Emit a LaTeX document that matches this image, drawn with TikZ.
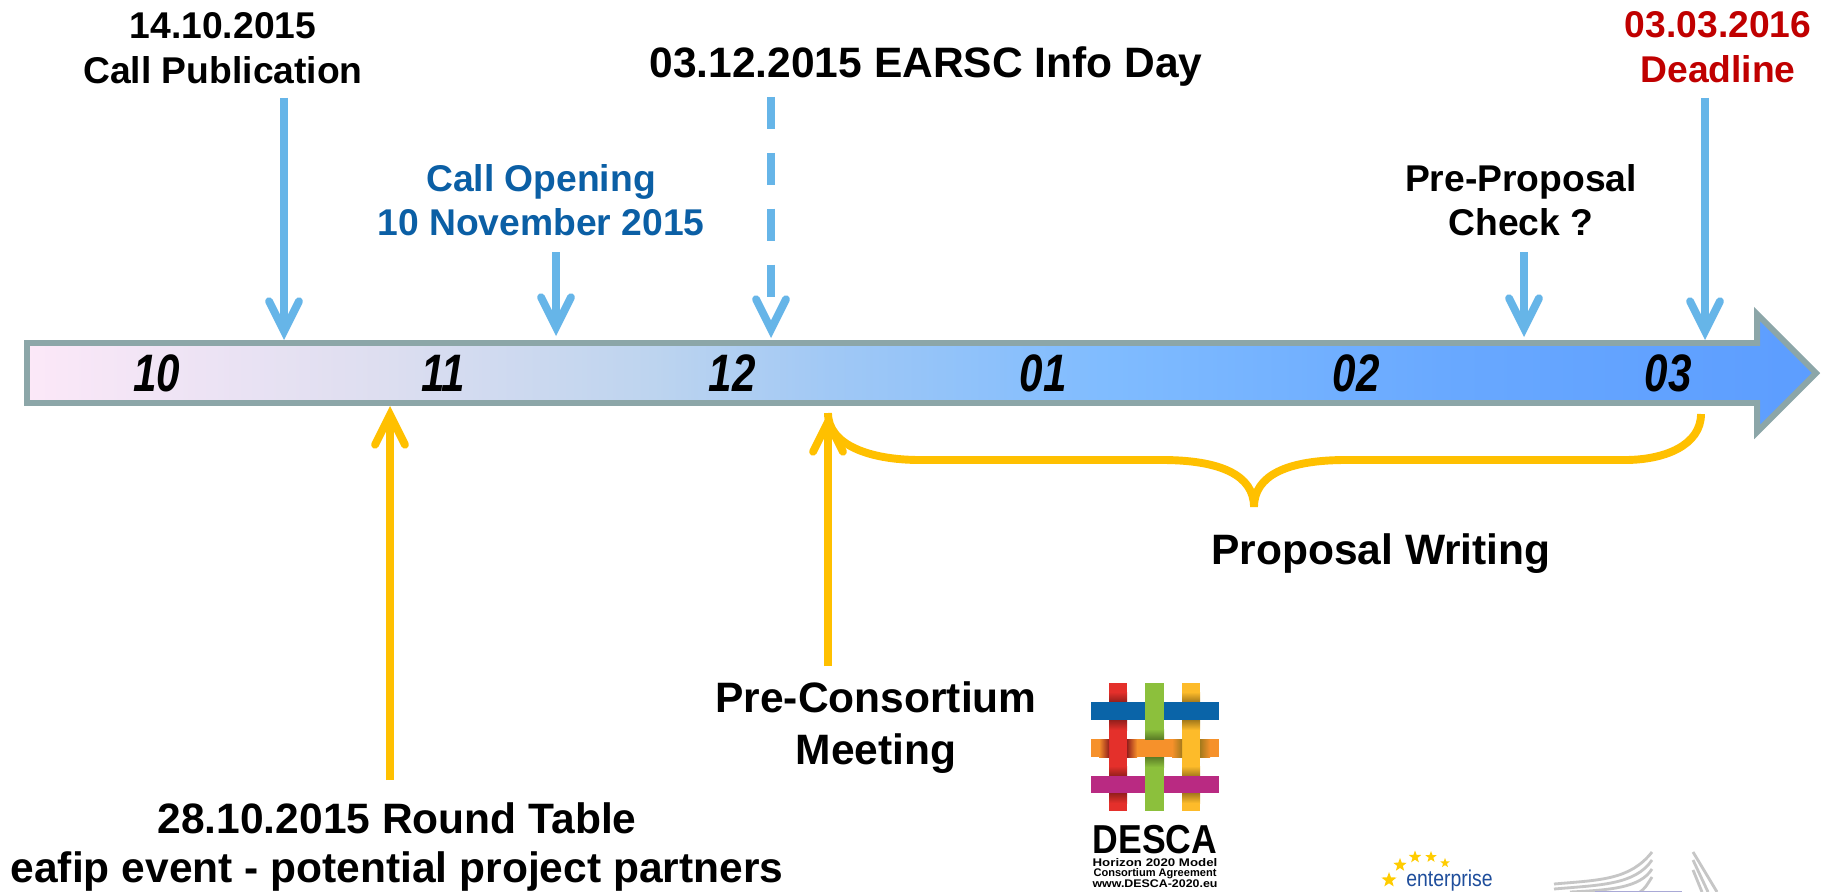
\documentclass[tikz,border=0pt]{standalone}
\usepackage{fontspec}
\setmainfont{Liberation Sans}
\usetikzlibrary{arrows.meta}
\usetikzlibrary{shapes.geometric}
\definecolor{skyblue}{HTML}{66B5E8}
\definecolor{amber}{HTML}{FFC000}
\definecolor{steelrim}{HTML}{8CA6A8}
\definecolor{openblue}{HTML}{0B5FA5}
\definecolor{deadred}{HTML}{C00000}
\definecolor{euroblue}{HTML}{1F4E9C}
\definecolor{eurogold}{HTML}{FFCC00}
\definecolor{descared}{HTML}{E4302B}
\definecolor{descagreen}{HTML}{8CC03C}
\definecolor{descayellow}{HTML}{FDBB2A}
\definecolor{descablue}{HTML}{0A64A8}
\definecolor{descaorange}{HTML}{F6912B}
\definecolor{descamagenta}{HTML}{B92A82}
\definecolor{bara}{HTML}{FCE8F8}
\definecolor{barb}{HTML}{DDDEF0}
\definecolor{barc}{HTML}{BDD4EF}
\definecolor{bard}{HTML}{A0C8F5}
\definecolor{bare}{HTML}{80BCFF}
\definecolor{barf}{HTML}{68A8FF}
\definecolor{barg}{HTML}{5C9DFF}
\pgfdeclarehorizontalshading{barshade}{100bp}{color(0bp)=(bara); color(25bp)=(bara); color(35bp)=(barb); color(42.5bp)=(barc); color(47.5bp)=(bard); color(55bp)=(bare); color(65bp)=(barf); color(75bp)=(barg); color(100bp)=(barg)}
\tikzset{
	x=0.02cm,y=-0.02cm,
	labelstyle/.style={font=\bfseries\fontsize{21.2}{25.3}\selectfont,align=center,inner sep=0},
	bigstyle/.style={font=\bfseries\fontsize{24.2}{29.7}\selectfont,align=center,inner sep=0},
	monthstyle/.style={font=\bfseries\itshape\fontsize{30}{30}\selectfont,inner sep=0,xscale=.8,transform shape},
	bluearrow/.style={draw=skyblue,line width=4.5pt,-{Straight Barb[length=17pt,width=17pt,line cap=round,line join=miter]}},
	amberarrow/.style={draw=amber,line width=4.5pt,-{Straight Barb[length=17pt,width=17pt,line cap=round,line join=miter]}},
	starstyle/.style={star,star points=5,star point ratio=2.4,fill=eurogold,inner sep=0},
	wingstyle/.style={draw=gray!45,line width=1.6pt}
}
\begin{document}
\begin{tikzpicture}
	\useasboundingbox (0,0) rectangle (1825,892);
	\fill[white] (0,0) rectangle (1825,892);
	% bar
	\shade[shading=barshade] (27,343)--(1757,343)--(1757,314)--(1816,373)--(1757,432)--(1757,403)--(27,403)--cycle;
	\draw[steelrim,line width=3.4pt,miter limit=10] (27,343)--(1757,343)--(1757,314)--(1816,373)--(1757,432)--(1757,403)--(27,403)--cycle;
	\node[monthstyle] (m10) at (157,373) {10};
	\node[monthstyle] (m11) at (443,373) {11};
	\node[monthstyle] (m12) at (732,373) {12};
	\node[monthstyle] (m01) at (1043,373) {01};
	\node[monthstyle] (m02) at (1356,373) {02};
	\node[monthstyle] (m03) at (1668,373) {03};
	% labels above
	\node[labelstyle] (publ) at (223,48) {14.10.2015\\Call Publication};
	\node[bigstyle] (info) at (926,67) {03.12.2015 EARSC Info Day};
	\node[labelstyle,text=openblue] (open) at (541,200) {Call Opening\\10 November 2015};
	\node[labelstyle] (check) at (1521,200) {Pre-Proposal\\Check ?};
	\node[labelstyle,text=deadred] (dead) at (1718,47) {03.03.2016\\Deadline};
	% labels below
	\node[bigstyle] (write) at (1381,554) {Proposal Writing};
	\node[bigstyle] (meet) at (876,728) {Pre-Consortium\\Meeting};
	\node[bigstyle] (table) at (397,847) {28.10.2015 Round Table\\[-1.7pt]eafip event - potential project partners};
	% ends on the bar
	\coordinate (publtip) at (284,340);
	\coordinate (publtop) at (284,98);
	\coordinate (opentip) at (556,336);
	\coordinate (opentop) at (556,252);
	\coordinate (infotip) at (771,338);
	\coordinate (infotop) at (771,97);
	\coordinate (checktip) at (1524,337);
	\coordinate (checktop) at (1524,252);
	\coordinate (deadtip) at (1705,340);
	\coordinate (deadtop) at (1705,98);
	\coordinate (tabletip) at (390,406);
	\coordinate (tablebot) at (390,780);
	\coordinate (meettip) at (828,413);
	\coordinate (meetbot) at (828,666);
	\draw[bluearrow] (publtop)--(publtip);
	\draw[bluearrow] (opentop)--(opentip);
	\draw[bluearrow,dash pattern=on 18.2pt off 13.6pt] (infotop)--(infotip);
	\draw[bluearrow] (checktop)--(checktip);
	\draw[bluearrow] (deadtop)--(deadtip);
	\draw[amberarrow] (tablebot)--(tabletip);
	\draw[amberarrow] (meetbot)--(meettip);
	% brace
	\coordinate (braceend) at (1701,414);
	\draw[amber,line width=4.5pt] (meettip) .. controls (828,445) and (870,460) .. (920,460) -- (1162,460) .. controls (1220,460) and (1254,475) .. (1254,507) .. controls (1254,475) and (1288,460) .. (1346,460) -- (1625,460) .. controls (1665,460) and (1701,445) .. (braceend);
	% DESCA logo
	\fill[descared] (1109,683) rectangle (1127,811);
	\fill[descayellow] (1182,683) rectangle (1200,811);
	\fill[descaorange] (1091,739) rectangle (1219,757);
	\foreach \xa/\col in {1109/descared,1182/descayellow}{
		\fill[\col] (\xa,739) rectangle (\xa+18,757);
		\shade[left color=\col!65!black,right color=descaorange] (\xa+18,739) rectangle (\xa+28,757);
		\shade[left color=descaorange,right color=\col!65!black] (\xa-10,739) rectangle (\xa,757);
		\shade[top color=\col,bottom color=\col!65!black] (\xa,692) rectangle (\xa+18,702);
		\shade[top color=\col!65!black,bottom color=\col] (\xa,720) rectangle (\xa+18,730);
		\shade[top color=\col,bottom color=\col!65!black] (\xa,766) rectangle (\xa+18,776);
		\shade[top color=\col!65!black,bottom color=\col] (\xa,793) rectangle (\xa+18,803);
	}
	\fill[descagreen] (1145,683) rectangle (1164,811);
	\fill[descaorange] (1145,739) rectangle (1164,757);
	\shade[top color=descagreen,bottom color=descagreen!65!black] (1145,729) rectangle (1164,739);
	\shade[top color=descagreen!65!black,bottom color=descagreen] (1145,757) rectangle (1164,767);
	\fill[descablue] (1091,702) rectangle (1145,720);
	\fill[descablue] (1164,702) rectangle (1219,720);
	\fill[descamagenta] (1091,776) rectangle (1145,793);
	\fill[descamagenta] (1164,776) rectangle (1219,793);
	\node[inner sep=0,font=\bfseries\fontsize{23}{23}\selectfont,xscale=.88,transform shape] (desca) at (1155,840) {DESCA};
	\node[inner sep=0,font=\bfseries\fontsize{6.3}{6.2}\selectfont,align=center] (descatxt) at (1155,873) {\scalebox{1.2}[1]{Horizon 2020 Model}\\Consortium Agreement\\\scalebox{1.12}[1]{www.DESCA-2020.eu}};
	% enterprise logo
	\node[starstyle,minimum size=9pt] (starone) at (1389,880) {};
	\node[starstyle,minimum size=8pt] (startwo) at (1400,865) {};
	\node[starstyle,minimum size=7.4pt] (starthree) at (1415,857) {};
	\node[starstyle,minimum size=6.8pt] (starfour) at (1431,857) {};
	\node[starstyle,minimum size=5.7pt] (starfive) at (1445,863) {};
	\node[inner sep=0,text=euroblue,font=\fontsize{13}{13}\selectfont,anchor=west,xscale=.85,transform shape] (ent) at (1406,881) {enterprise};
	% building
	\draw[wingstyle] (1554,884) .. controls (1600,880) and (1630,880) .. (1652,852);
	\draw[wingstyle] (1554,889) .. controls (1600,885) and (1635,885) .. (1652,860);
	\draw[wingstyle] (1570,892) .. controls (1610,890) and (1640,888) .. (1652,869);
	\draw[wingstyle] (1640,892) .. controls (1645,888) .. (1652,877);
	\draw[wingstyle] (1693,852) -- (1717,892);
	\draw[wingstyle] (1693,860) -- (1708,892);
	\draw[wingstyle] (1693,870) -- (1702,892);
	\fill[blue!35!gray!50] (1595,890.5) rectangle (1682,892);
\end{tikzpicture}
\end{document}
